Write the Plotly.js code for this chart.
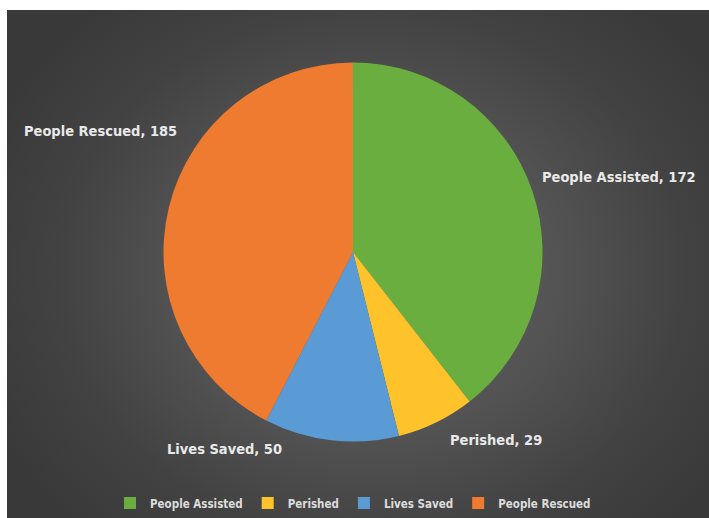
<!DOCTYPE html>
<html>
<head>
<meta charset="utf-8">
<script src="https://cdn.plot.ly/plotly-3.0.1.min.js"></script>
<style>
  html, body { margin: 0; padding: 0; background: #ffffff; width: 709px; height: 518px; overflow: hidden; }
  #chart {
    position: absolute; left: 7px; top: 10px; width: 702px; height: 508px;
    background: radial-gradient(ellipse 60% 70% at 52% 52%, #666666 0%, #535353 45%, #424242 75%, #393939 100%);
  }
</style>
</head>
<body>
<div id="chart"></div>
<script>
// Data
const categories = ["People Assisted", "Perished", "Lives Saved", "People Rescued"];
const values = [172, 29, 50, 185];
const colors = ["#6aae3f", "#fec22a", "#5b9bd5", "#ee7b30"];

// Data-label placement (paper coordinates), separate from data
const labelX = [0.8725, 0.6966, 0.3105, 0.1339];
const labelY = [0.6693, 0.1476, 0.128, 0.7598];

const FONT = "'DejaVu Sans Condensed', 'Liberation Sans Narrow', sans-serif";

const trace = {
  type: "pie",
  labels: categories,
  values: values,
  sort: false,
  direction: "clockwise",
  rotation: 0,
  textinfo: "none",
  hoverinfo: "label+value",
  marker: { colors: colors, line: { width: 0 } },
  domain: { x: [0.2208, 0.765], y: [0.1437, 0.8957] }
};

const annotations = categories.map((c, i) => ({
  text: c + ", " + values[i],
  x: labelX[i], y: labelY[i], xref: "paper", yref: "paper",
  xanchor: "center", yanchor: "middle", showarrow: false,
  font: { family: FONT, size: 14.5, color: "#e9e9e9", weight: "bold" }
}));

const layout = {
  width: 702, height: 508,
  margin: { l: 0, r: 0, t: 0, b: 0 },
  paper_bgcolor: "rgba(0,0,0,0)",
  plot_bgcolor: "rgba(0,0,0,0)",
  showlegend: true,
  legend: {
    orientation: "h", x: 0.4929, xanchor: "center", y: 0.0217, yanchor: "middle",
    font: { family: FONT, size: 11.5, color: "#dddddd", weight: "bold" },
    bgcolor: "rgba(0,0,0,0)", itemclick: false, traceorder: "normal"
  },
  annotations: annotations
};

Plotly.newPlot("chart", [trace], layout, { displayModeBar: false, staticPlot: true });
</script>
</body>
</html>
